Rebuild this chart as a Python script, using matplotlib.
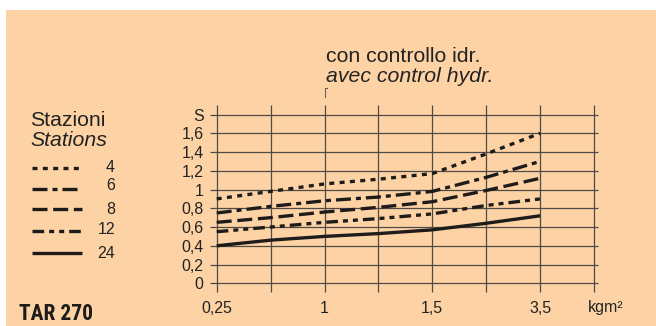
import matplotlib
matplotlib.use("Agg")
import matplotlib.pyplot as plt
from matplotlib.patches import Rectangle
from matplotlib.lines import Line2D
from matplotlib import font_manager

plt.rcParams['font.family'] = ['Liberation Sans', 'DejaVu Sans']

# Data (x = grid column index, labels every other column)
x_pos = [0, 1, 2, 3, 4, 5, 6]
x_tick_pos = [0, 2, 4, 6]
x_tick_labels = ['0,25', '1', '1,5', '3,5']
y_ticks = [0, 0.2, 0.4, 0.6, 0.8, 1.0, 1.2, 1.4, 1.6, 1.8]
y_tick_labels = ['0', '0,2', '0,4', '0,6', '0,8', '1', '1,2', '1,4', '1,6', 'S']
grid_x = [0, 1, 2, 3, 4, 5, 6, 7]

stations = ['4', '6', '8', '12', '24']
s4 = [0.90, 0.98, 1.06, 1.11, 1.17, 1.38, 1.60]
s6 = [0.75, 0.82, 0.88, 0.92, 0.98, 1.13, 1.30]
s8 = [0.65, 0.70, 0.76, 0.81, 0.87, 0.99, 1.12]
s12 = [0.55, 0.60, 0.65, 0.69, 0.74, 0.83, 0.90]
s24 = [0.40, 0.46, 0.50, 0.53, 0.57, 0.64, 0.72]
series = [s4, s6, s8, s12, s24]

# line styles (dash patterns in linewidth units)
dash_styles = [(0, (1.5, 1.6)),
               (0, (4.5, 1.5, 1.5, 1.5)),
               (0, (4.5, 1.7)),
               (0, (3.5, 1.5, 1.5, 1.5, 1.5, 1.5)),
               '-']
lw = 2.4
ink = '#1e1c1a'
txt = '#222222'
grid_col = '#4f4a44'
peach = '#fdd3a5'

# condensed bold face for the model name, if one is installed
names = {f.name for f in font_manager.fontManager.ttflist}
cond = [n for n in ['Liberation Sans Narrow', 'DejaVu Sans Condensed',
                    'Roboto Condensed', 'Open Sans Condensed'] if n in names]
tar_family = cond[:1] + ['DejaVu Sans']

fig = plt.figure(figsize=(6.56, 3.26), dpi=100)
fig.patch.set_facecolor('white')
fig.patches.append(Rectangle((6 / 656, 0), 1, 1 - 10 / 326,
                             transform=fig.transFigure, facecolor=peach,
                             edgecolor='none', zorder=-10))

ax = fig.add_axes([205 / 656, 31 / 326, 395 / 656, 195 / 326])
ax.set_facecolor('none')
ax.set_xlim(-0.217, 7.111)
ax.set_ylim(-0.125, 1.955)
for s in ax.spines.values():
    s.set_visible(False)

# grid
ax.hlines(y_ticks, -0.124, 7.07, color=grid_col, lw=0.9, zorder=1)
ax.vlines(grid_x, -0.09, 1.90, color=grid_col, lw=0.9, zorder=1)
ax.plot([2, 2, 2.05], [1.99, 2.08, 2.08], color='#6a625a', lw=0.8,
        clip_on=False)

for vals, ls in zip(series, dash_styles):
    ax.plot(x_pos, vals, color=ink, lw=lw, linestyle=ls,
            solid_capstyle='butt', dash_capstyle='butt', zorder=3)

ax.set_yticks(y_ticks, y_tick_labels)
ax.set_xticks(x_tick_pos, x_tick_labels)
ax.tick_params(axis='both', length=0, labelsize=11.5, colors=txt)
ax.tick_params(axis='y', pad=1)
ax.tick_params(axis='x', pad=4)
ax.text(7.22, -0.125 - 5 / 93.75, 'kgm²', ha='center', va='top',
        fontsize=11.5, color=txt, clip_on=False)

# titles
fig.text(326 / 656, 1 - 47 / 326, 'con controllo idr.', fontsize=15.3,
         va='top', ha='left', color=txt)
fig.text(326 / 656, 1 - 67 / 326, 'avec control hydr.', fontsize=15.3,
         va='top', ha='left', style='italic', color=txt)

# legend
fig.text(30 / 656, 1 - 111 / 326, 'Stazioni', fontsize=15.3, va='top',
         color=txt)
fig.text(30 / 656, 1 - 131 / 326, 'Stations', fontsize=15.3, va='top',
         style='italic', color=txt)
leg_y = [168, 189, 209, 231, 253]
lab_y = [168, 185, 209, 229, 253]
for name, ls, ly, ty in zip(stations, dash_styles, leg_y, lab_y):
    fig.add_artist(Line2D([32 / 656, 82 / 656], [1 - ly / 326] * 2,
                          color=ink, lw=lw, linestyle=ls,
                          solid_capstyle='butt', dash_capstyle='butt'))
    fig.text(115 / 656, 1 - ty / 326, name, fontsize=11.5, ha='right',
             va='center', color=txt)

fig.text(19 / 656, 1 - 303 / 326, 'TAR 270', fontsize=15.5,
         fontweight='bold', fontstretch='condensed', va='top', ha='left',
         color=ink, family=tar_family)

fig.savefig('out.png', dpi=100, facecolor=fig.get_facecolor())
